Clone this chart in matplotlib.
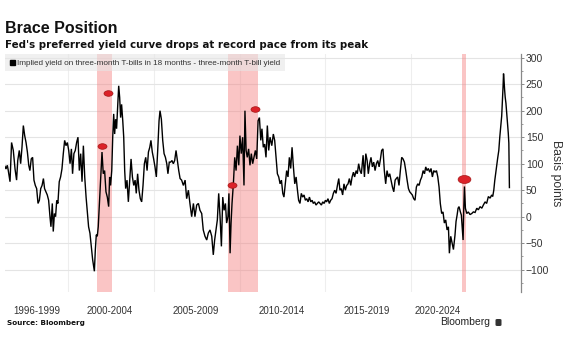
import matplotlib
matplotlib.use("Agg")
import matplotlib.pyplot as plt
import numpy as np
from matplotlib.path import Path
from matplotlib.lines import Line2D
from matplotlib.ticker import MultipleLocator, FixedLocator, NullFormatter, FixedFormatter
from matplotlib.patches import FancyBboxPatch

TITLE = "Brace Position"
SUBTITLE = "Fed's preferred yield curve drops at record pace from its peak"
SERIES_NAME = "Implied yield on three-month T-bills in 18 months - three-month T-bill yield"
SOURCE = "Source: Bloomberg"
Y_LABEL = "Basis points"

YEARS = [
    1996.39, 1996.44, 1996.51, 1996.56, 1996.65, 1996.73, 1996.82, 1996.91, 1996.99, 1997.05,
    1997.13, 1997.20, 1997.27, 1997.34, 1997.41, 1997.48, 1997.55, 1997.62, 1997.68, 1997.75,
    1997.82, 1997.89, 1997.96, 1998.03, 1998.10, 1998.17, 1998.24, 1998.31, 1998.38, 1998.44,
    1998.51, 1998.58, 1998.65, 1998.72, 1998.77, 1998.84, 1998.89, 1998.95, 1999.01, 1999.07,
    1999.13, 1999.20, 1999.27, 1999.34, 1999.41, 1999.48, 1999.55, 1999.62, 1999.69, 1999.76,
    1999.83, 1999.89, 1999.96, 2000.03, 2000.10, 2000.17, 2000.24, 2000.31, 2000.38, 2000.45,
    2000.52, 2000.59, 2000.65, 2000.72, 2000.79, 2000.86, 2000.93, 2001.02,
    2001.07, 2001.12, 2001.17, 2001.22, 2001.28, 2001.35, 2001.415, 2001.48, 2001.55, 2001.62,
    2001.69, 2001.76, 2001.81, 2001.86, 2001.92, 2001.97, 2002.02, 2002.07, 2002.12, 2002.17,
    2002.23, 2002.28, 2002.33, 2002.38, 2002.43, 2002.49, 2002.54, 2002.59, 2002.64, 2002.71,
    2002.78, 2002.85, 2002.92, 2002.99, 2003.06, 2003.13, 2003.19, 2003.26, 2003.33, 2003.40,
    2003.47, 2003.54, 2003.61, 2003.68, 2003.75, 2003.82, 2003.89, 2003.95, 2004.02, 2004.09,
    2004.16, 2004.23, 2004.30, 2004.37, 2004.42, 2004.49, 2004.56, 2004.63, 2004.70, 2004.77,
    2004.83, 2004.90, 2004.97, 2005.04, 2005.11, 2005.18, 2005.25, 2005.32, 2005.39, 2005.46,
    2005.54, 2005.63, 2005.72, 2005.80, 2005.89, 2005.97, 2006.06, 2006.15, 2006.23, 2006.32,
    2006.41, 2006.49, 2006.58, 2006.66, 2006.75, 2006.84, 2006.92, 2007.01, 2007.10, 2007.18,
    2007.25, 2007.32, 2007.39, 2007.46, 2007.53, 2007.60, 2007.67, 2007.74, 2007.81, 2007.87,
    2007.94, 2007.99, 2008.05, 2008.10, 2008.15, 2008.22, 2008.29, 2008.36, 2008.43, 2008.50,
    2008.56, 2008.63, 2008.70, 2008.77, 2008.82, 2008.88, 2008.94, 2009.01, 2009.08, 2009.15,
    2009.22, 2009.29, 2009.36, 2009.43, 2009.50, 2009.57, 2009.64, 2009.70, 2009.77, 2009.84,
    2009.91, 2009.98, 2010.05, 2010.12,
    2010.21, 2010.29, 2010.36, 2010.43, 2010.50, 2010.57, 2010.64, 2010.71, 2010.78, 2010.84,
    2010.91, 2010.98, 2011.05, 2011.12, 2011.19, 2011.26, 2011.33, 2011.40, 2011.47, 2011.54,
    2011.60, 2011.67, 2011.74, 2011.81, 2011.88, 2011.95, 2012.02, 2012.09, 2012.16, 2012.23,
    2012.30, 2012.36, 2012.43, 2012.50, 2012.57, 2012.64, 2012.71, 2012.78, 2012.85, 2012.92,
    2012.99, 2013.05, 2013.12, 2013.19, 2013.26, 2013.33, 2013.40, 2013.47, 2013.54, 2013.61,
    2013.68, 2013.74, 2013.81, 2013.88, 2013.95, 2014.02, 2014.09, 2014.16, 2014.23, 2014.30,
    2014.37, 2014.44, 2014.50, 2014.58, 2014.64, 2014.71, 2014.78, 2014.85,
    2014.94, 2015.01, 2015.08, 2015.15, 2015.21, 2015.28, 2015.35, 2015.42, 2015.49, 2015.56,
    2015.63, 2015.70, 2015.77, 2015.84, 2015.90, 2015.97, 2016.04, 2016.11, 2016.18, 2016.25,
    2016.32, 2016.39, 2016.46, 2016.53, 2016.60, 2016.66, 2016.73, 2016.80, 2016.87, 2016.94,
    2017.01, 2017.08, 2017.15, 2017.22, 2017.29, 2017.355, 2017.42, 2017.49, 2017.56, 2017.63,
    2017.70, 2017.77, 2017.84, 2017.91, 2017.98, 2018.05, 2018.12, 2018.185, 2018.25, 2018.32,
    2018.39, 2018.46, 2018.53, 2018.60, 2018.67, 2018.74, 2018.81, 2018.875, 2018.94, 2019.01,
    2019.08, 2019.15, 2019.22, 2019.29, 2019.36, 2019.41, 2019.48, 2019.55, 2019.62,
    2019.70, 2019.755, 2019.81, 2019.86, 2019.91, 2019.98, 2020.03, 2020.08, 2020.12, 2020.15,
    2020.19, 2020.24, 2020.31, 2020.39, 2020.48, 2020.57, 2020.65, 2020.74, 2020.83, 2020.91,
    2021.00, 2021.09, 2021.17, 2021.26, 2021.34, 2021.43, 2021.52, 2021.60, 2021.655,
    2021.71, 2021.76, 2021.81, 2021.86, 2021.91, 2021.97, 2022.02, 2022.07, 2022.12, 2022.16,
    2022.19, 2022.215, 2022.24, 2022.27, 2022.30, 2022.34, 2022.38, 2022.42, 2022.46, 2022.49,
    2022.52,
]

SPREAD_BP = [
    95, 90, 97, 87, 66, 140, 125, 90, 69, 106,
    125, 100, 131, 172, 153, 140, 122, 97, 87, 109,
    112, 69, 59, 53, 25, 31, 53, 59, 72, 53,
    47, 41, 31, 0, -19, 25, -28, 6, 0, 31,
    25, 66, 75, 90, 119, 144, 134, 140, 125, 100,
    128, 81, 119, 125, 140, 150, 87, 119, 66, 134,
    75, 37, 12, -19, -31, -56, -81, -103,
    -62, -34, -37, -19, 25, 75, 122, 81, 87, 47,
    37, 19, 75, 59, 87, 150, 194, 156, 184, 166,
    212, 247, 225, 187, 212, 181, 150, 87, 53, 69,
    28, 69, 109, 75, 59, 69, 44, 81, 50, 34,
    28, 59, 100, 112, 87, 122, 131, 144, 122, 109,
    94, 75, 125, 181, 200, 184, 144, 119, 112, 100,
    81, 103, 103, 106, 100, 106, 125, 106, 87, 72,
    69, 59, 69, 34, 50, 25, 0, 25, 0, 22,
    25, 12, 6, -25, -37, -44, -31, -25, -37, -72,
    -44, -25, -6, 44, 0, -56, 37, 12, 25, -12,
    0, 44, -69, -12, 25, 62, 112, 87, 134, 97,
    153, 119, 150, 59, 200, 125, 112, 128, 97, 119,
    100, 112, 125, 109, 181, 187, 144, 166, 131, 137,
    112, 172, 125, 150,
    134, 156, 144, 112, 81, 75, 62, 69, 44, 37,
    62, 87, 75, 112, 91, 131, 94, 62, 75, 50,
    31, 25, 44, 37, 41, 31, 34, 28, 37, 28,
    31, 25, 28, 22, 25, 28, 25, 22, 28, 25,
    31, 28, 34, 25, 31, 34, 44, 50, 44, 59,
    72, 50, 53, 41, 62, 50, 59, 62, 72, 59,
    75, 84, 75, 87, 81, 100, 87, 81,
    116, 75, 119, 106, 81, 100, 112, 94, 103, 87,
    100, 106, 94, 109, 125, 128, 87, 62, 87, 75,
    81, 69, 56, 47, 69, 72, 75, 59, 87, 112,
    109, 103, 87, 69, 53, 47, 44, 41, 34, 31,
    56, 62, 59, 69, 75, 87, 81, 94, 87, 91,
    84, 91, 75, 87, 84, 87, 75, 56, 25, 6,
    9, -12, -6, -25, -19, -69, -37, -50, -62,
    -35, -9, 3, 16, 19, 9, 3, -22, -44, 9,
    57, 16, 6, 9, 4, 6, 9, 8, 16, 13,
    19, 16, 22, 28, 25, 38, 35, 41, 38,
    50, 68, 82, 96, 110, 125, 150, 170, 190, 220,
    245, 270, 258, 240, 226, 214, 196, 176, 158, 139,
    55,
]

RECESSIONS = [(2001.17, 2001.93), (2007.96, 2009.51), (2020.07, 2020.27)]
MARKER_YEARS = [2001.40, 2001.74, 2008.13, 2009.34, 2020.17]
MARKER_BP = [134, 234, 59, 203, 72]
PERIOD_LABELS = ["1996-1999", "2000-2004", "2005-2009", "2010-2014", "2015-2019", "2020-2024"]
PERIOD_LABEL_X = [1998.05, 2001.83, 2006.28, 2010.74, 2015.14, 2018.82]
GRID_X = [1999.65, 2004.11, 2008.56, 2012.97, 2017.42]
Y_TICKS = [-100, -50, 0, 50, 100, 150, 200, 250, 300]

W, H = 585, 354
fig = plt.figure(figsize=(W / 100, H / 100), dpi=100)
fig.patch.set_facecolor("white")

ax_left, ax_right, ax_top, ax_bot = 5, 521, 54, 292
ax = fig.add_axes([ax_left / W, 1 - ax_bot / H, (ax_right - ax_left) / W, (ax_bot - ax_top) / H])

for a, b in RECESSIONS:
    ax.axvspan(a, b, color="#f47f7f", alpha=0.45, lw=0, zorder=1.5)

ax.plot(YEARS, SPREAD_BP, color="black", lw=1.0, zorder=3, solid_joinstyle="miter")

circ = Path.unit_circle()
ell = Path(circ.vertices * np.array([1.0, 0.62]), circ.codes)
ax.scatter(MARKER_YEARS[:4], MARKER_BP[:4], marker=ell, s=42, facecolor="#dc2229",
           edgecolor="#a31515", linewidths=0.5, zorder=4)
ax.scatter(MARKER_YEARS[4:], MARKER_BP[4:], marker=ell, s=85, facecolor="#dc2229",
           edgecolor="#a31515", linewidths=0.5, zorder=4)

ax.set_xlim(1996.39, 2023.12)
ax.set_ylim(-142.1, 307.0)

# x axis: gridlines at major, period labels at minor
ax.xaxis.set_major_locator(FixedLocator(GRID_X))
ax.xaxis.set_major_formatter(NullFormatter())
ax.xaxis.set_minor_locator(FixedLocator(PERIOD_LABEL_X))
ax.xaxis.set_minor_formatter(FixedFormatter(PERIOD_LABELS))
ax.tick_params(axis="x", which="both", length=0)
ax.tick_params(axis="x", which="minor", pad=10.0, labelsize=7.0, labelcolor="#333333")
for lbl in ax.xaxis.get_minorticklabels():
    lbl.set_family(["Liberation Sans", "DejaVu Sans"])

# y axis on right
ax.yaxis.tick_right()
ax.set_yticks(Y_TICKS)
ax.yaxis.set_minor_locator(MultipleLocator(25))
ax.tick_params(axis="y", which="major", length=2.5, width=0.6, color="#777777", pad=1,
               labelsize=7.5, labelcolor="#333333")
ax.tick_params(axis="y", which="minor", length=1.6, width=0.5, color="#777777")
for lbl in ax.get_yticklabels():
    lbl.set_family(["Liberation Sans", "DejaVu Sans"])

ax.grid(axis="y", which="major", color="#e4e4e4", lw=0.8, zorder=1)
ax.grid(axis="x", which="major", color="#eeeeee", lw=0.8, zorder=1)
ax.set_axisbelow(True)

for s in ["left", "top", "bottom"]:
    ax.spines[s].set_visible(False)
ax.spines["right"].set_color("#888888")
ax.spines["right"].set_linewidth(0.9)

# legend
handle = Line2D([], [], ls="none", marker="s", color="black", markersize=3.6)
leg = ax.legend([handle], [SERIES_NAME], loc="upper left", bbox_to_anchor=(0, 1),
                borderaxespad=0, frameon=True, fancybox=False, facecolor="#e6e6e6",
                edgecolor="none", framealpha=0.6, handlelength=0.5, handletextpad=0.4,
                borderpad=0.6, prop={"family": ["Liberation Sans", "DejaVu Sans"], "size": 5.85})
for t in leg.get_texts():
    t.set_color("#333333")
leg.set_zorder(5)

# texts
fig.text(5 / W, 1 - 33.3 / H, TITLE, fontsize=11.5, fontweight="bold",
         family=["Liberation Sans", "DejaVu Sans"], va="baseline", ha="left", color="#111111")
fig.text(5 / W, 1 - 47.7 / H, SUBTITLE, fontsize=7.4, fontweight="bold",
         family=["DejaVu Sans"], va="baseline", ha="left", color="#111111")
fig.text(556 / W, 1 - 173 / H, Y_LABEL, rotation=270, fontsize=8.8,
         family=["Liberation Sans", "DejaVu Sans"], va="center", ha="center", color="#333333")
fig.text(7 / W, 1 - 325.3 / H, SOURCE, fontsize=5.2, fontweight="bold",
         family=["DejaVu Sans"], va="baseline", ha="left", color="#111111")
fig.text(440 / W, 1 - 325.3 / H, "Bloomberg", fontsize=7.5,
         family=["Liberation Sans", "DejaVu Sans"], va="baseline", ha="left", color="#222222")
fig.patches.append(FancyBboxPatch((495.5 / W, 1 - 326 / H), 6 / W, 7 / H,
                                  boxstyle="round,pad=0,rounding_size=0.003",
                                  transform=fig.transFigure, facecolor="#333333",
                                  edgecolor="none"))

fig.savefig("out.png", dpi=100, facecolor="white")
